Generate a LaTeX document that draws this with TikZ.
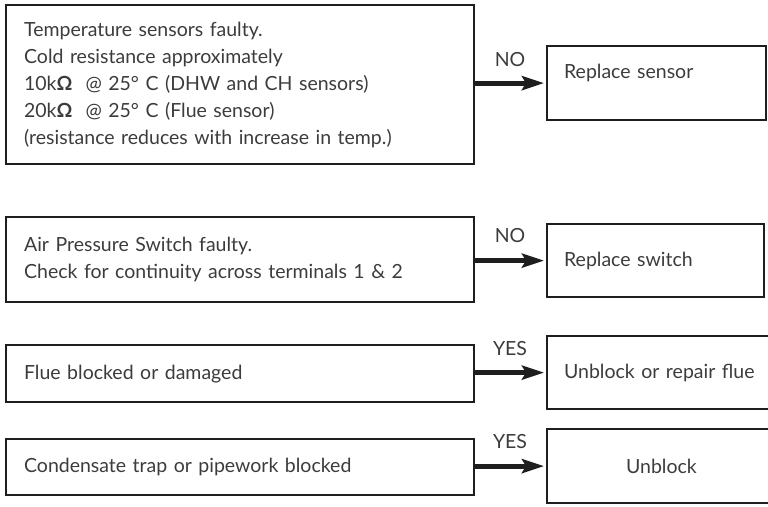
\documentclass[tikz,border=0pt]{standalone}
\usepackage{fontspec}
\setmainfont{Lato}
\usetikzlibrary{arrows.meta}
\definecolor{txtc}{HTML}{3C3C3C}
\definecolor{linec}{HTML}{1E1E1E}
\begin{document}
\begin{tikzpicture}[x=1pt,y=-1pt,
  box/.style={draw=linec, line width=2.2pt, rectangle, anchor=north west,
    inner ysep=0pt, text=txtc, font=\fontsize{19.5}{27}\selectfont, align=left},
  lbox/.style={box, minimum width=468pt, text width=432pt, inner xsep=18pt},
  rbox/.style={box, inner xsep=17pt},
  lbl/.style={text=txtc, font=\fontsize{19.5}{21}\selectfont, inner sep=0pt},
  arr/.style={draw=linec, line width=5pt, shorten >=2pt,
    -{Stealth[length=22pt,width=14pt,inset=4pt]}}]
\useasboundingbox (0,0) rectangle (768,506);
% left boxes
\node[lbox, minimum height=159pt] (b1) at (5,4) {Temperature sensors faulty.\\
Cold resistance approximately\\
10k{\bfseries Ω}\ \ @ 25° C (DHW and CH sensors)\\
20k{\bfseries Ω}\ \ @ 25° C (Flue sensor)\\
(resistance reduces with increase in temp.)};
\node[lbox, minimum height=85pt] (b2) at (5,216) {Air Pressure Switch faulty.\\
Check for continuity across terminals 1 \& 2};
\node[lbox, minimum height=57pt] (b3) at (5,344) {Flue blocked or damaged};
\node[lbox, minimum height=56pt] (b4) at (5,438) {Condensate trap or pipework blocked};
% right boxes
\node[rbox, minimum width=219pt, minimum height=74pt, text width=185pt] (r1) at (546,45)
  {\raisebox{5pt}[0pt][0pt]{Replace sensor}};
\node[rbox, minimum width=217pt, minimum height=73pt, text width=183pt] (r2) at (546,223) {Replace switch};
\node[rbox, minimum width=232pt, minimum height=73pt, text width=198pt] (r3) at (546,335) {Unblock or repair flue};
\node[box, inner xsep=0pt, minimum width=232pt, minimum height=74pt, text width=232pt,
  align=left] (r4) at (546,428) {\hspace*{79pt}Unblock};
% labels
\node[lbl] (n1) at (510,60) {NO};
\node[lbl] (n2) at (510,235.5) {NO};
\node[lbl] (y3) at (510,349) {YES};
\node[lbl] (y4) at (510,442) {YES};
% arrows
\draw[arr] (b1.east |- r1.west) -- (r1.west);
\draw[arr] (b2.east |- r2.west) -- (r2.west);
\draw[arr] (b3.east |- r3.west) -- (r3.west);
\draw[arr] (b4.east |- r4.west) -- (r4.west);
\end{tikzpicture}
\end{document}
